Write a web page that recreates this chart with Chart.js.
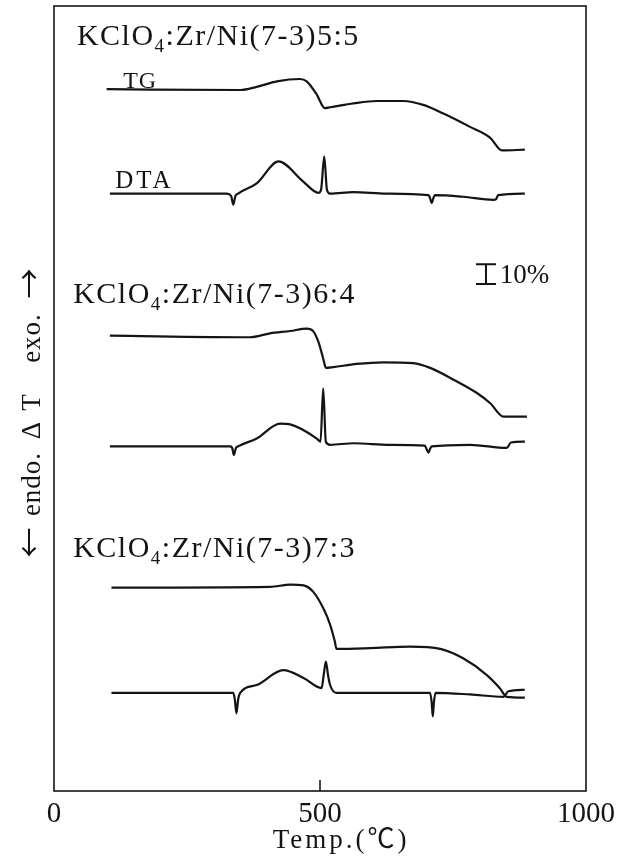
<!DOCTYPE html>
<html>
<head>
<meta charset="utf-8">
<script src="https://cdn.jsdelivr.net/npm/chart.js@4.4.1/dist/chart.umd.min.js"></script>
<style>
  html, body { margin: 0; padding: 0; background: #fff; }
  #dta-chart { display: block; }
</style>
</head>
<body>
<canvas id="dta-chart" width="621" height="863"></canvas>
<script>
  // x axis (°C)
  const xTicks = [0, 500, 1000];

  // y is a shared, unitless offset axis (0 = bottom of frame, 100 = top)
  // KClO4:Zr/Ni(7-3) 5:5
  const tg55Temp  = [99, 350, 381, 419, 462, 475, 494, 509, 519, 563, 607, 657, 694, 732, 782, 820, 842, 885];
  const tg55Val   = [89.4, 89.3, 89.7, 90.4, 90.7, 90.4, 88.7, 87.0, 87.1, 87.6, 87.9, 87.9, 87.4, 86.3, 84.6, 83.2, 81.6, 81.7];
  const dta55Temp = [105, 325, 333, 337, 341, 346, 381, 422, 469, 497, 502, 508, 513, 519, 563, 625, 704, 707, 710, 713, 716, 769, 826, 831, 835, 885];
  const dta55Val  = [76.1, 76.1, 75.8, 74.7, 75.8, 76.1, 77.4, 80.2, 77.6, 76.2, 76.6, 80.8, 76.6, 76.1, 76.3, 76.1, 75.9, 75.5, 74.9, 75.5, 75.9, 75.7, 75.3, 75.4, 75.9, 76.1];

  // KClO4:Zr/Ni(7-3) 6:4
  const tg64Temp  = [105, 368, 406, 444, 475, 487, 497, 506, 511, 525, 569, 619, 675, 707, 751, 795, 820, 845, 889];
  const tg64Val   = [58.0, 57.8, 58.3, 58.6, 58.9, 58.6, 57.2, 55.1, 53.9, 54.0, 54.4, 54.6, 54.5, 53.9, 52.4, 50.7, 49.4, 47.7, 47.7];
  const dta64Temp = [105, 331, 335, 338, 342, 346, 381, 425, 444, 494, 501, 506, 511, 519, 563, 632, 697, 700, 704, 707, 710, 782, 851, 859, 885];
  const dta64Val  = [43.9, 43.9, 43.7, 42.8, 43.7, 43.9, 44.9, 46.8, 46.7, 44.9, 44.5, 51.3, 44.5, 44.1, 44.3, 44.1, 44.0, 43.6, 43.1, 43.6, 43.9, 44.1, 43.7, 44.4, 44.5];

  // KClO4:Zr/Ni(7-3) 7:3
  const tg73Temp  = [108, 406, 444, 469, 487, 506, 519, 528, 531, 594, 669, 726, 769, 813, 838, 851, 885];
  const tg73Val   = [25.9, 26.0, 26.3, 26.2, 25.4, 23.3, 21.2, 19.0, 18.1, 18.2, 18.4, 18.1, 16.9, 14.8, 13.1, 12.0, 11.9];
  const dta73Temp = [108, 337, 340, 343, 346, 350, 381, 431, 469, 503, 507, 511, 515, 519, 531, 707, 710, 712, 714, 717, 782, 845, 854, 885];
  const dta73Val  = [12.5, 12.5, 11.6, 9.9, 11.6, 12.5, 13.5, 15.4, 14.4, 13.1, 14.8, 16.5, 14.8, 13.5, 12.5, 12.5, 11.2, 9.5, 11.2, 12.5, 12.3, 12.0, 12.7, 12.9];

  const runRatios = ['5:5', '6:4', '7:3'];

  const serif = "'Liberation Serif', 'Times New Roman', 'Noto Sans CJK JP', serif";
  const arrowFont = "'Noto Sans CJK JP', 'DejaVu Sans', sans-serif";
  const ink = '#141414';

  function toPoints(temps, vals) {
    return temps.map((t, i) => ({ x: t, y: vals[i] }));
  }

  function curve(temps, vals) {
    return {
      data: toPoints(temps, vals),
      borderColor: ink,
      borderWidth: 2.2,
      pointRadius: 0,
      cubicInterpolationMode: 'monotone',
      borderJoinStyle: 'round',
      fill: false
    };
  }

  // label anchors in data units (°C, offset axis)
  const runTitleAt = [
    { t: 43, v: 95.0 },
    { t: 36, v: 62.2 },
    { t: 36, v: 29.8 }
  ];

  // pieces of the vertical axis title, bottom to top, with their centre (px from top)
  const yTitleParts = [
    { text: '←', font: '30px ' + arrowFont, at: 542 },
    { text: 'endo.', font: '27px ' + serif, at: 484 },
    { text: 'Δ', font: '27px ' + serif, at: 430 },
    { text: 'T', font: '27px ' + serif, at: 402 },
    { text: 'exo.', font: '27px ' + serif, at: 338 },
    { text: '→', font: '30px ' + arrowFont, at: 283 }
  ];

  function drawFormula(ctx, px, py, ratio) {
    ctx.font = '30px ' + serif;
    ctx.letterSpacing = '1.5px';
    ctx.fillText('KClO', px, py);
    let w = ctx.measureText('KClO').width;
    ctx.font = '19px ' + serif;
    ctx.fillText('4', px + w, py + 7);
    w += ctx.measureText('4').width;
    ctx.font = '30px ' + serif;
    ctx.fillText(':Zr/Ni(7-3)' + ratio, px + w, py);
  }

  const decorations = {
    id: 'decorations',
    afterDraw(chart) {
      const { ctx, chartArea: area, scales: { x, y } } = chart;
      ctx.save();
      ctx.strokeStyle = ink;
      ctx.fillStyle = ink;
      ctx.lineWidth = 1.6;

      // frame
      ctx.strokeRect(area.left, area.top, area.right - area.left, area.bottom - area.top);

      // inward tick at mid scale
      const mid = x.getPixelForValue(xTicks[1]);
      ctx.beginPath();
      ctx.moveTo(mid, area.bottom);
      ctx.lineTo(mid, area.bottom - 11);
      ctx.stroke();

      ctx.textBaseline = 'alphabetic';
      ctx.textAlign = 'left';

      runRatios.forEach((r, i) => {
        const a = runTitleAt[i];
        drawFormula(ctx, x.getPixelForValue(a.t), y.getPixelForValue(a.v), r);
      });

      // curve names on the first run
      ctx.font = '24px ' + serif;
      ctx.letterSpacing = '1px';
      ctx.fillText('TG', x.getPixelForValue(130), y.getPixelForValue(89.5));
      ctx.font = '25px ' + serif;
      ctx.letterSpacing = '3px';
      ctx.fillText('DTA', x.getPixelForValue(115), y.getPixelForValue(76.8));

      // 10 % mass scale bar
      const bx = x.getPixelForValue(812);
      const bTop = y.getPixelForValue(67.1);
      const bBot = y.getPixelForValue(64.6);
      ctx.lineWidth = 2;
      ctx.beginPath();
      ctx.moveTo(bx, bTop); ctx.lineTo(bx, bBot);
      ctx.moveTo(bx - 10, bTop); ctx.lineTo(bx + 10, bTop);
      ctx.moveTo(bx - 10, bBot); ctx.lineTo(bx + 10, bBot);
      ctx.stroke();
      ctx.font = '27px ' + serif;
      ctx.letterSpacing = '0px';
      ctx.fillText('10%', x.getPixelForValue(838), y.getPixelForValue(64.7));

      // x axis title
      ctx.font = '27px ' + serif;
      ctx.letterSpacing = '3px';
      ctx.fillText('Temp.(℃)', x.getPixelForValue(411), 848);

      // y axis title, rotated
      ctx.translate(40, 0);
      ctx.rotate(-Math.PI / 2);
      ctx.textAlign = 'center';
      ctx.letterSpacing = '1px';
      yTitleParts.forEach(p => {
        ctx.font = p.font;
        ctx.fillText(p.text, -p.at, 0);
      });
      ctx.restore();
    }
  };

  new Chart(document.getElementById('dta-chart'), {
    type: 'line',
    data: {
      datasets: [
        curve(tg55Temp, tg55Val),
        curve(dta55Temp, dta55Val),
        curve(tg64Temp, tg64Val),
        curve(dta64Temp, dta64Val),
        curve(tg73Temp, tg73Val),
        curve(dta73Temp, dta73Val)
      ]
    },
    options: {
      responsive: false,
      devicePixelRatio: 1,
      animation: false,
      layout: { padding: { left: 54, right: 35, top: 6, bottom: 0 } },
      plugins: { legend: { display: false }, tooltip: { enabled: false } },
      scales: {
        x: {
          type: 'linear',
          min: xTicks[0],
          max: xTicks[2],
          grid: { display: false },
          border: { display: false },
          afterBuildTicks: (scale) => { scale.ticks = xTicks.map(v => ({ value: v })); },
          afterFit: (scale) => { scale.height = 72; },
          ticks: {
            color: ink,
            padding: 1,
            maxRotation: 0,
            callback: (v) => String(v),
            font: { family: serif, size: 29, lineHeight: 1 }
          }
        },
        y: {
          display: false,
          min: 0,
          max: 100
        }
      }
    },
    plugins: [decorations]
  });
</script>
</body>
</html>
